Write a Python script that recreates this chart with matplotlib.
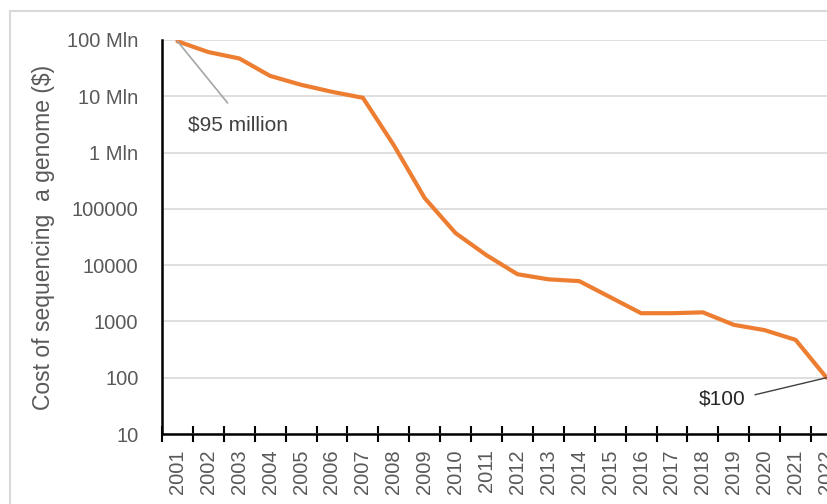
import matplotlib
matplotlib.use('Agg')
import matplotlib.pyplot as plt
from matplotlib.patches import Rectangle

# cost of sequencing one human genome, US dollars
years = list(range(2001, 2023))
cost = [95e6, 61e6, 47e6, 23e6, 16e6, 12e6, 9.4e6, 1.35e6, 155000, 37000,
        15000, 6900, 5600, 5200, 2700, 1400, 1400, 1450, 870, 700, 470, 100]
y_ticks = [10, 100, 1000, 10000, 100000, 1e6, 1e7, 1e8]
y_tick_labels = ['10', '100', '1000', '10000', '100000', '1 Mln', '10 Mln', '100 Mln']

plt.rcParams['font.family'] = ['Liberation Sans', 'DejaVu Sans']

ORANGE = '#ed7d31'
TEXT_GRAY = '#595959'

fig = plt.figure(figsize=(8.27, 5.04), dpi=100)

# light outer frame of the chart area
fig.patches.append(Rectangle((10 / 827, -0.1), 1.2, 1.1 - 11 / 504,
                             transform=fig.transFigure, fill=False,
                             edgecolor='#d9d9d9', linewidth=1.5))

# axes run past the right edge so the last year sits on the border
ax = fig.add_axes([162 / 827, 70 / 504, 680 / 827, 394 / 504])

ax.plot(years, cost, color=ORANGE, linewidth=3.0, solid_joinstyle='round',
        solid_capstyle='round', zorder=3)

ax.set_yscale('log')
ax.set_ylim(10, 1e8)
ax.set_xlim(years[0] - 0.5, years[-1] + 0.5)

ax.set_yticks(y_ticks)
ax.set_yticklabels(y_tick_labels)
ax.minorticks_off()
ax.tick_params(axis='y', length=0, pad=17, labelsize=14.5, labelcolor=TEXT_GRAY)
ax.yaxis.grid(True, color='#d9d9d9', linewidth=1.2)
ax.set_axisbelow(True)

# year labels at category centres, tick marks on category boundaries
ax.set_xticks(years)
ax.set_xticklabels([str(y) for y in years], rotation=90)
ax.tick_params(axis='x', which='major', length=0, pad=11, labelsize=14.5,
               labelcolor=TEXT_GRAY)
ax.set_xticks([y - 0.5 for y in years] + [years[-1] + 0.5], minor=True)
ax.tick_params(axis='x', which='minor', direction='inout', length=12,
               width=1.5, color='black')

for side in ['top', 'right']:
    ax.spines[side].set_visible(False)
for side in ['left', 'bottom']:
    ax.spines[side].set_color('black')
    ax.spines[side].set_linewidth(1.8)

ax.set_ylabel('Cost of sequencing  a genome ($)', fontsize=16.5,
              color=TEXT_GRAY, labelpad=8.5)

ax.annotate('$95 million', xy=(years[0], cost[0]), xytext=(2002.95, 3.1e6),
            ha='center', va='center', fontsize=15, color='#404040',
            arrowprops=dict(arrowstyle='-', color='#a6a6a6', linewidth=1.2,
                            relpos=(0.5, 1.0), shrinkA=9, shrinkB=0))
ax.annotate('$100', xy=(years[-1], cost[-1]), xytext=(2018.62, 42),
            ha='center', va='center', fontsize=15, color='#262626',
            arrowprops=dict(arrowstyle='-', color='#404040', linewidth=1.0,
                            relpos=(1.0, 0.6), shrinkA=5, shrinkB=0))

fig.savefig('out.png', dpi=100)
